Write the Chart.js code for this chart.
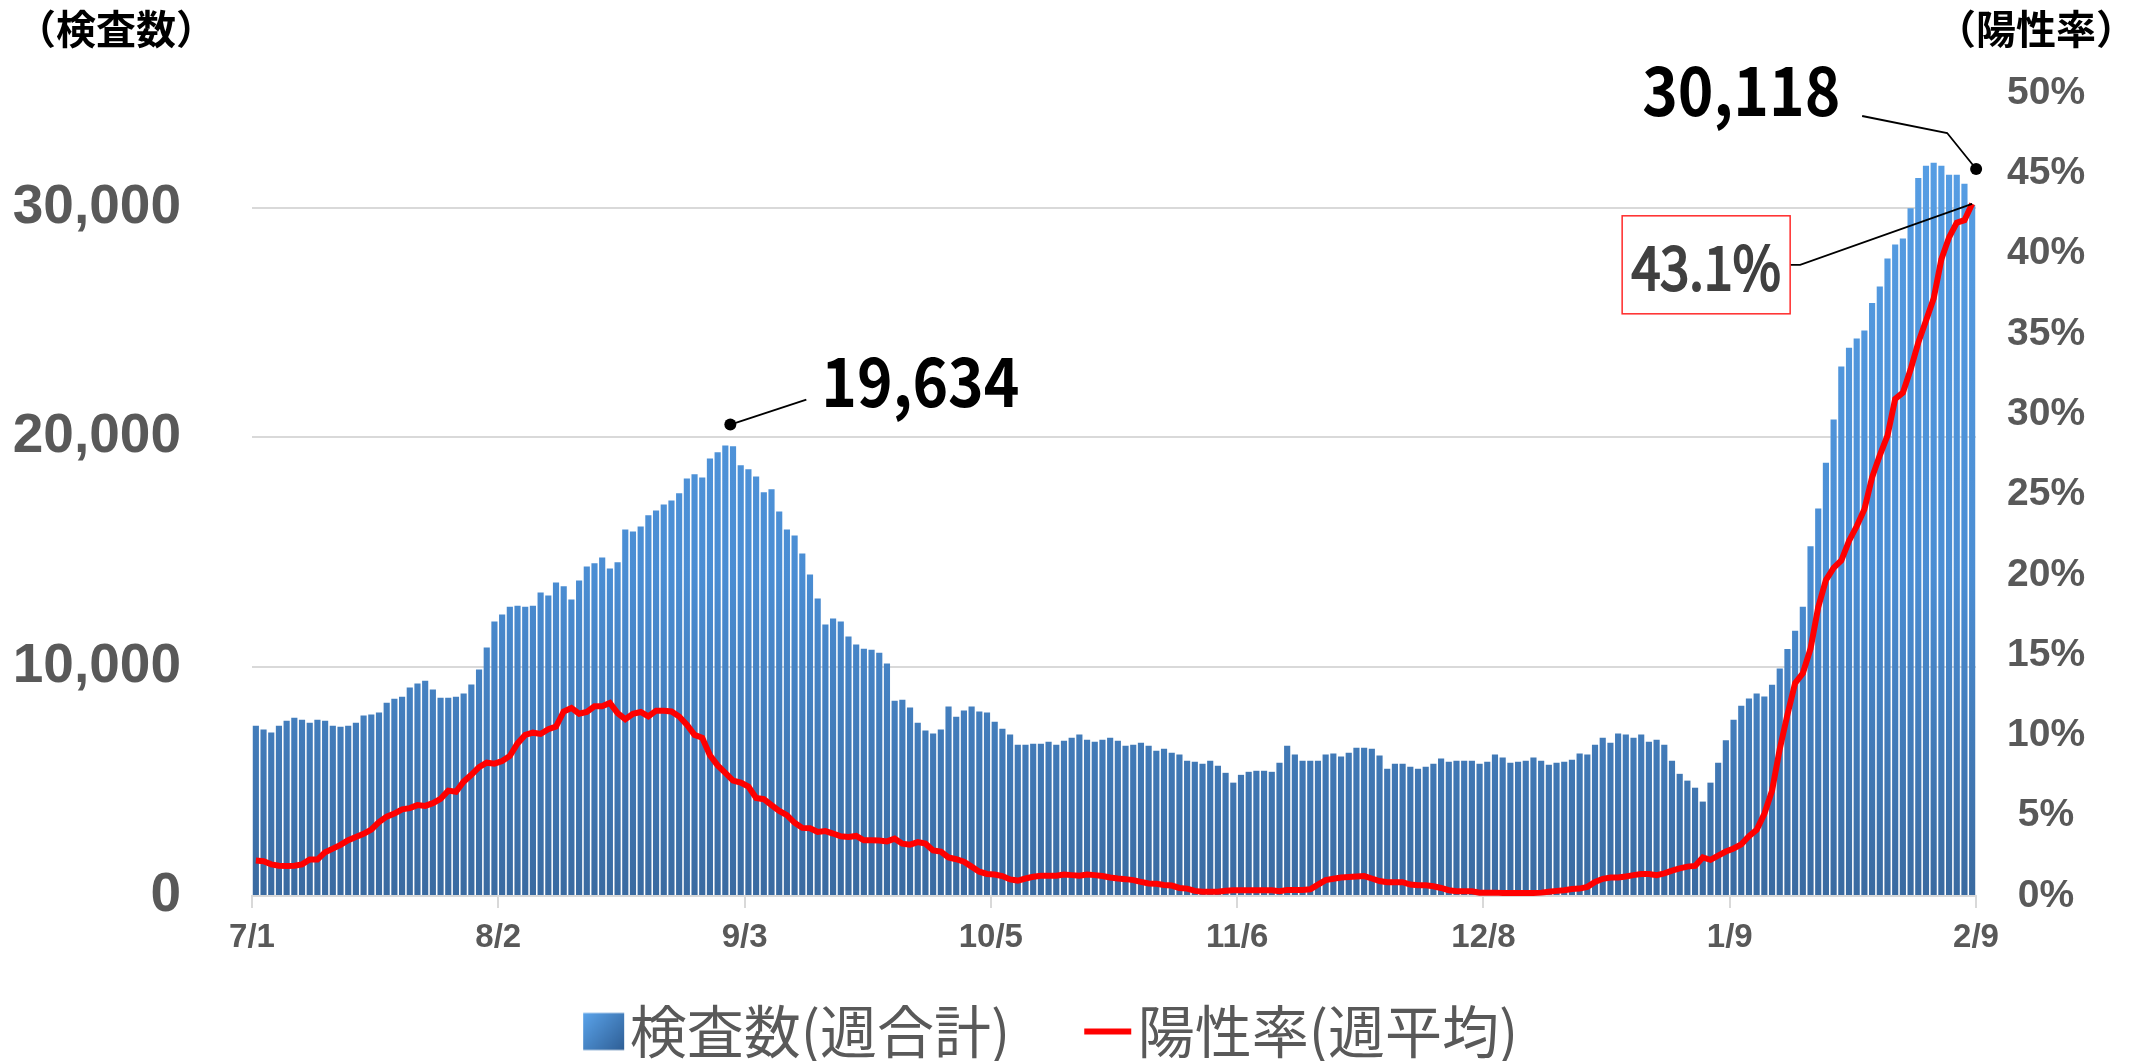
<!DOCTYPE html>
<html>
<head>
<meta charset="utf-8">
<script src="https://cdn.jsdelivr.net/npm/chart.js@4.4.1/dist/chart.umd.min.js"></script>
<style>
  html, body { margin: 0; padding: 0; background: #fff; }
  #wrap { width: 2136px; height: 1061px; }
</style>
</head>
<body>
<div id="wrap"><canvas id="chart" width="2136" height="1061"></canvas></div>
<script>
// ========== DATA ========== //
// month / number of days shown (7/1 .. 2/9)
const months = [[7, 31], [8, 31], [9, 30], [10, 31], [11, 30], [12, 31], [1, 31], [2, 9]];
const dates = [];
months.forEach(([m, n]) => { for (let d = 1; d <= n; d++) dates.push(m + "/" + d); });

const tickLabels = ["7/1", "8/2", "9/3", "10/5", "11/6", "12/8", "1/9", "2/9"];
const leftTicks = [0, 10000, 20000, 30000];

// 検査数 (週合計)
const tests = [
  7420, 7257, 7124, 7420, 7641, 7773, 7685, 7552, 7685, 7641,
  7420, 7375, 7420, 7552, 7862, 7906, 7995, 8422, 8600, 8688,
  9086, 9263, 9381, 8997, 8644, 8644, 8688, 8821, 9219, 9868,
  10827, 11963, 12272, 12611, 12655, 12611, 12655, 13231, 13098, 13659,
  13496, 12921, 13747, 14367, 14499, 14749, 14278, 14543, 15974, 15886,
  16107, 16594, 16800, 17066, 17243, 17553, 18202, 18379, 18246, 19072,
  19337, 19634, 19603, 18776, 18600, 18290, 17597, 17730, 16756, 15974,
  15709, 14926, 14012, 12965, 11829, 12094, 11963, 11313, 10959, 10782,
  10738, 10605, 10133, 8511, 8555, 8216, 7552, 7213, 7080, 7257,
  8260, 7818, 8083, 8260, 8039, 7995, 7596, 7287, 7036, 6593,
  6593, 6638, 6638, 6726, 6593, 6770, 6903, 7036, 6815, 6726,
  6815, 6903, 6770, 6549, 6593, 6682, 6549, 6328, 6416, 6239,
  6166, 5900, 5856, 5767, 5900, 5679, 5369, 4941, 5281, 5413,
  5458, 5458, 5413, 5812, 6549, 6166, 5900, 5900, 5900, 6166,
  6210, 6077, 6239, 6461, 6461, 6416, 6122, 5546, 5767, 5767,
  5634, 5546, 5634, 5767, 5989, 5856, 5900, 5900, 5900, 5767,
  5856, 6166, 6033, 5812, 5856, 5900, 6033, 5900, 5723, 5812,
  5856, 5944, 6210, 6166, 6593, 6903, 6682, 7080, 7036, 6903,
  7036, 6726, 6815, 6593, 5900, 5325, 5029, 4720, 4115, 4941,
  5812, 6790, 7686, 8295, 8604, 8822, 8694, 9208, 9914, 10771,
  11563, 12612, 15246, 16895, 18887, 20771, 23084, 23897, 24304, 24647,
  25850, 26570, 27790, 28400, 28660, 29980, 31300, 31830, 31960, 31830,
  31440, 31440, 31040, 30118
];

// 陽性率 (週平均, %)
const positivity = [
  2.21, 2.16, 1.97, 1.89, 1.87, 1.89, 1.97, 2.27, 2.27, 2.73,
  2.95, 3.18, 3.47, 3.68, 3.87, 4.14, 4.60, 4.94, 5.13, 5.40,
  5.47, 5.66, 5.61, 5.78, 6.05, 6.56, 6.49, 7.12, 7.55, 8.03,
  8.30, 8.24, 8.40, 8.72, 9.50, 10.03, 10.17, 10.09, 10.38, 10.55,
  11.49, 11.71, 11.35, 11.46, 11.81, 11.81, 12.02, 11.39, 11.01, 11.35,
  11.46, 11.18, 11.54, 11.54, 11.49, 11.18, 10.66, 10.03, 9.85, 8.76,
  8.13, 7.67, 7.19, 7.06, 6.81, 6.10, 6.03, 5.66, 5.30, 5.04,
  4.56, 4.24, 4.22, 3.99, 4.04, 3.89, 3.72, 3.68, 3.74, 3.47,
  3.47, 3.45, 3.40, 3.57, 3.26, 3.20, 3.36, 3.26, 2.84, 2.77,
  2.40, 2.29, 2.14, 1.83, 1.51, 1.37, 1.34, 1.24, 1.03, 0.96,
  1.09, 1.20, 1.26, 1.26, 1.26, 1.34, 1.30, 1.26, 1.34, 1.30,
  1.24, 1.15, 1.09, 1.05, 0.99, 0.88, 0.78, 0.76, 0.69, 0.65,
  0.50, 0.46, 0.32, 0.27, 0.27, 0.27, 0.33, 0.36, 0.36, 0.36,
  0.36, 0.36, 0.36, 0.30, 0.38, 0.38, 0.38, 0.42, 0.71, 0.99,
  1.07, 1.15, 1.18, 1.22, 1.24, 1.09, 0.93, 0.86, 0.86, 0.86,
  0.71, 0.67, 0.67, 0.61, 0.50, 0.36, 0.30, 0.30, 0.30, 0.21,
  0.21, 0.21, 0.19, 0.19, 0.19, 0.19, 0.19, 0.21, 0.27, 0.32,
  0.36, 0.44, 0.46, 0.57, 0.88, 1.07, 1.15, 1.15, 1.22, 1.30,
  1.37, 1.37, 1.30, 1.41, 1.58, 1.72, 1.83, 1.87, 2.40, 2.25,
  2.52, 2.77, 2.96, 3.22, 3.72, 4.12, 5.12, 6.56, 9.15, 11.29,
  13.26, 13.87, 15.40, 17.99, 19.67, 20.43, 20.89, 22.11, 23.02, 24.08,
  26.07, 27.44, 28.66, 30.95, 31.34, 32.78, 34.46, 35.82, 37.20, 39.64,
  41.01, 41.92, 42.08, 43.1
];

// ========== HELPERS ========== //
const GRID = "#d9d9d9";
const AXIS_TXT = "#595959";
const CJK = "'Noto Sans CJK JP', 'Noto Sans', sans-serif";
const LAT = "'Liberation Sans', Arial, sans-serif";
const LEGEND_FONT = "57px " + CJK;

const last = dates.length - 1;
const peakIdx = tests.indexOf(Math.max(...tests.slice(0, 120)));

// tick positions on the date axis (band boundaries, last label at the end)
const tickPos = {};
tickLabels.forEach(l => {
  const i = dates.indexOf(l);
  tickPos[i === last ? dates.length : i] = l;
});

function legendSwatch(kind) {
  const c = document.createElement("canvas");
  c.width = 110; c.height = 40;
  const g = c.getContext("2d");
  if (kind === "bar") {
    const gr = g.createLinearGradient(67, 2, 108, 38);
    gr.addColorStop(0, "#5aa3ea");
    gr.addColorStop(1, "#2f5f96");
    g.fillStyle = gr;
    g.fillRect(67, 1.5, 41, 37);
  } else {
    g.strokeStyle = "#ff0000";
    g.lineWidth = 6;
    g.beginPath(); g.moveTo(60, 20); g.lineTo(107, 20); g.stroke();
  }
  return c;
}
const swatches = [legendSwatch("bar"), legendSwatch("line")];

// blank tail on the last legend entry, so the centred legend sits a bit left
const mctx = document.createElement("canvas").getContext("2d");
mctx.font = LEGEND_FONT;
const legendTail = " ".repeat(Math.round(74 / mctx.measureText(" ").width));

function barFill(context) {
  const area = context.chart.chartArea;
  if (!area) return "#4a8fd6";
  const g = context.chart.ctx.createLinearGradient(0, area.bottom, 0, area.top);
  g.addColorStop(0, "#3a6aa0");
  g.addColorStop(0.4, "#4a8dd3");
  g.addColorStop(1, "#58a0e6");
  return g;
}

function squeezeText(ctx, text, x, y, sx, outline) {
  ctx.save();
  ctx.translate(x, y);
  ctx.scale(sx, 1);
  ctx.fillText(text, 0, 0);
  if (outline) { ctx.lineWidth = outline; ctx.strokeText(text, 0, 0); }
  ctx.restore();
}

// ========== CALLOUTS + AXIS CAPTIONS ========== //
const callouts = {
  id: "callouts",
  afterDatasetsDraw(chart) {
    const { ctx } = chart;
    const xs = chart.scales.x, ys = chart.scales.y, yr = chart.scales.y1;
    ctx.save();
    ctx.strokeStyle = "#000";
    ctx.fillStyle = "#000";
    ctx.lineWidth = 1.8;
    ctx.font = "bold 68px " + CJK;
    ctx.textAlign = "left";
    ctx.textBaseline = "alphabetic";

    // first wave peak
    const px = xs.getPixelForValue(peakIdx) + 5;
    const py = ys.getPixelForValue(tests[peakIdx]) - 21;
    ctx.beginPath(); ctx.arc(px, py, 6, 0, Math.PI * 2); ctx.fill();
    ctx.beginPath(); ctx.moveTo(px, py); ctx.lineTo(px + 76, py - 25); ctx.stroke();
    squeezeText(ctx, tests[peakIdx].toLocaleString("en-US"), px + 91, py - 18, 0.89);

    // latest tests
    const lx = xs.getPixelForValue(last);
    const dx = lx + 4, dy = ys.getPixelForValue(tests[last]) - 36;
    ctx.beginPath(); ctx.arc(dx, dy, 6, 0, Math.PI * 2); ctx.fill();
    ctx.beginPath();
    ctx.moveTo(dx, dy); ctx.lineTo(dx - 29, dy - 36); ctx.lineTo(dx - 114, dy - 53);
    ctx.stroke();
    squeezeText(ctx, tests[last].toLocaleString("en-US"), dx - 334, dy - 53, 0.89);

    // latest positivity box
    const ey = yr.getPixelForValue(positivity[last]);
    const bx = lx - 350, by = ey + 12, bw = 168, bh = 98;
    ctx.beginPath();
    ctx.moveTo(lx, ey); ctx.lineTo(bx + bw + 10, by + bh / 2); ctx.lineTo(bx + bw, by + bh / 2);
    ctx.stroke();
    ctx.fillStyle = "#fff";
    ctx.fillRect(bx, by, bw, bh);
    ctx.strokeStyle = "#ff2a2a";
    ctx.lineWidth = 1.5;
    ctx.strokeRect(bx, by, bw, bh);
    ctx.fillStyle = "#404040";
    ctx.strokeStyle = "#404040";
    ctx.font = "60px " + CJK;
    ctx.textAlign = "center"; ctx.textBaseline = "middle";
    squeezeText(ctx, positivity[last].toFixed(1) + "%", bx + bw / 2, by + bh / 2 + 2, 0.87, 2.2);
    ctx.restore();
  },
  afterDraw(chart) {
    const { ctx } = chart;
    ctx.save();
    ctx.fillStyle = "#000";
    ctx.font = "bold 40px " + CJK;
    ctx.textBaseline = "middle";
    ctx.textAlign = "left";
    ctx.fillText("（検査数）", 16, 29);
    ctx.textAlign = "right";
    ctx.fillText("（陽性率）", 2136, 29);
    ctx.restore();
  }
};

// ========== CHART ========== //
new Chart(document.getElementById("chart"), {
  data: {
    labels: dates,
    datasets: [
      {
        type: "bar",
        label: "検査数(週合計)",
        data: tests,
        yAxisID: "y",
        backgroundColor: barFill,
        categoryPercentage: 1.0,
        barPercentage: 0.8,
        order: 1
      },
      {
        type: "line",
        label: "陽性率(週平均)",
        data: positivity,
        yAxisID: "y1",
        borderColor: "#ff0000",
        borderWidth: 6,
        pointRadius: 0,
        tension: 0,
        order: 0
      }
    ]
  },
  options: {
    responsive: false,
    animation: false,
    layout: { padding: { top: 93, right: 0, bottom: 0, left: 0 } },
    plugins: {
      tooltip: { enabled: false },
      legend: {
        position: "bottom",
        maxHeight: 97,
        labels: {
          usePointStyle: true,
          pointStyleWidth: 60,
          boxHeight: 37,
          padding: 39,
          color: AXIS_TXT,
          font: { family: CJK, size: 57 },
          generateLabels(chart) {
            const items = Chart.defaults.plugins.legend.labels.generateLabels(chart);
            items.sort((a, b) => a.datasetIndex - b.datasetIndex);
            items.forEach(it => { it.pointStyle = swatches[it.datasetIndex]; });
            items[items.length - 1].text += legendTail;
            return items;
          }
        }
      }
    },
    scales: {
      x: {
        type: "category",
        display: false,
        offset: true
      },
      x2: {
        type: "linear",
        position: "bottom",
        min: 0,
        max: dates.length,
        afterBuildTicks(scale) {
          scale.ticks = Object.keys(tickPos).map(v => ({ value: Number(v) }));
        },
        afterFit(scale) { scale.height = 68; },
        grid: { drawOnChartArea: false, color: GRID, lineWidth: 2, tickLength: 12 },
        border: { display: true, color: GRID, width: 2 },
        ticks: {
          autoSkip: false,
          maxRotation: 0,
          padding: 10,
          color: AXIS_TXT,
          font: { family: LAT, size: 33, weight: "bold" },
          callback: v => tickPos[v] || ""
        }
      },
      y: {
        position: "left",
        min: 0,
        max: 35000,
        afterBuildTicks(scale) { scale.ticks = leftTicks.map(v => ({ value: v })); },
        afterFit(scale) { scale.width = 252; },
        // invisible tick marks keep the labels away from the plot
        grid: { color: GRID, lineWidth: 2, drawTicks: true, tickLength: 60, tickColor: "rgba(0,0,0,0)" },
        border: { display: false },
        ticks: {
          padding: 11,
          color: AXIS_TXT,
          font: { family: LAT, size: 55, weight: "bold" },
          callback: v => v.toLocaleString("en-US")
        }
      },
      y1: {
        position: "right",
        min: 0,
        max: 50,
        afterFit(scale) { scale.width = 160; },
        grid: { display: false, drawTicks: false },
        border: { display: false },
        ticks: {
          stepSize: 5,
          padding: 31,
          crossAlign: "center",
          color: AXIS_TXT,
          font: { family: LAT, size: 39, weight: "bold" },
          callback: v => v + "%"
        }
      }
    }
  },
  plugins: [callouts]
});
</script>
</body>
</html>
